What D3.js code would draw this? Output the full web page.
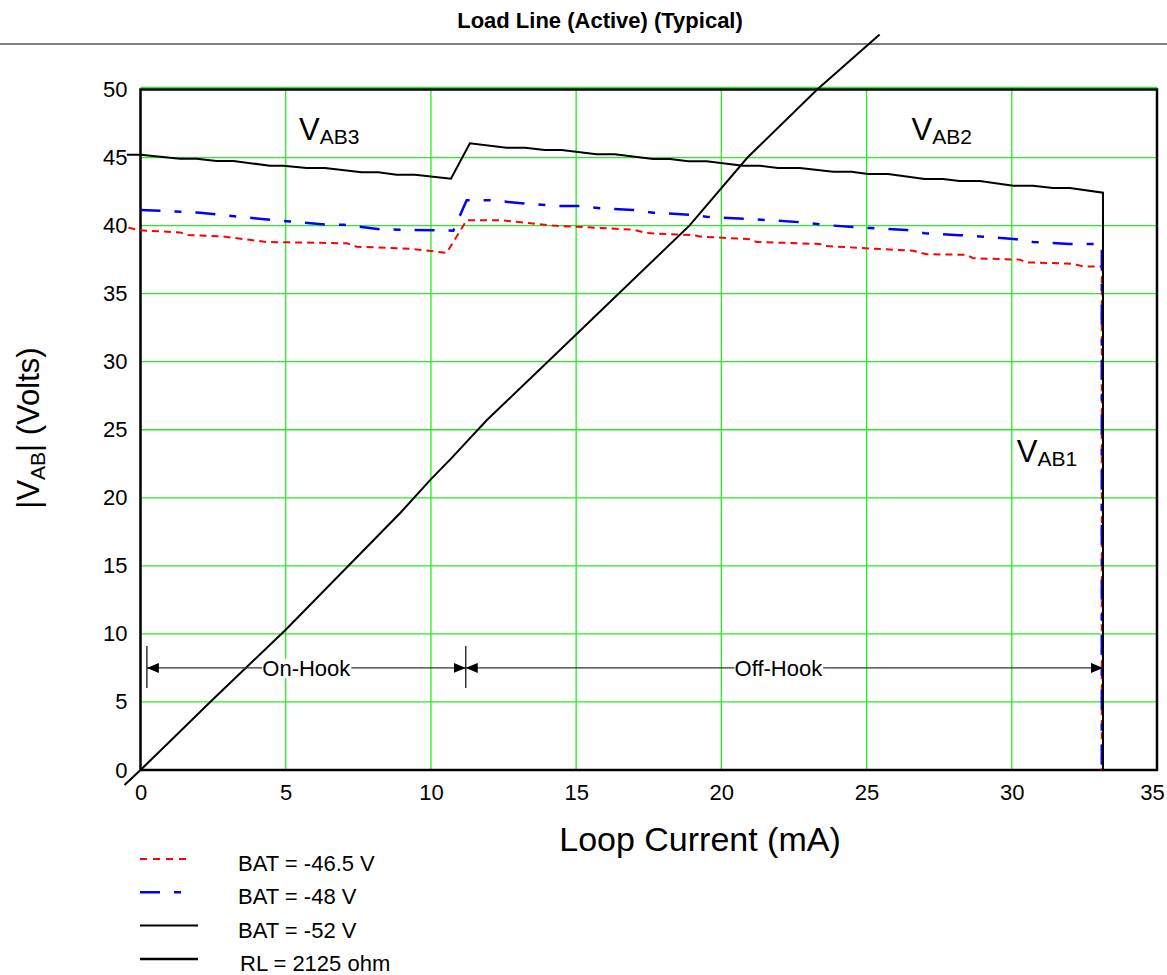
<!DOCTYPE html>
<html>
<head>
<meta charset="utf-8">
<script src="https://cdn.jsdelivr.net/npm/d3@7"></script>
<style>
  body{margin:0;background:#fff;}
  text{font-family:'Liberation Sans',Arial,sans-serif;fill:#000;}
</style>
</head>
<body>
<svg width="1167" height="975"></svg>
<script>
// values: [loop current mA, |VAB| volts]
const BAT_465=[[-0.42,39.85],[0,39.65],[1.36,39.5],[1.65,39.3],[2.85,39.2],[4.34,38.8],[7.1,38.7],[7.44,38.45],[9.28,38.3],[10.54,38.0],[11.23,40.4],[12.38,40.4],[14.2,40.0],[16.96,39.7],[17.42,39.45],[19.03,39.3],[19.26,39.2],[20.98,39.0],[21.21,38.8],[23.39,38.65],[23.56,38.5],[26.6,38.15],[27.06,37.9],[28.44,37.85],[28.67,37.6],[30.28,37.5],[30.5,37.3],[32.1,37.2],[32.45,37.0],[33.1,37.0],[33.1,0]];
const BAT_48=[[0,41.15],[2.05,40.95],[3.31,40.66],[5.15,40.3],[6.4,40.07],[7.0,40.07],[8.24,39.73],[10.77,39.63],[11.23,41.87],[12.03,41.87],[13.3,41.6],[14.44,41.44],[15.13,41.44],[15.82,41.27],[16.96,41.15],[17.65,40.95],[19.03,40.78],[19.49,40.65],[20.87,40.5],[22.7,40.25],[23.85,40.0],[25.1,39.82],[26.37,39.68],[27.0,39.44],[28.2,39.3],[28.9,39.2],[30.16,39.0],[30.73,38.8],[32.0,38.65],[33.1,38.65],[33.1,0]];
const BAT_52=[[-0.47,45.2],[0,45.2],[1.36,44.92],[1.93,44.92],[2.62,44.75],[3.2,44.75],[4.46,44.4],[4.92,44.4],[5.72,44.23],[6.35,44.23],[7.61,43.92],[8.19,43.92],[8.82,43.74],[9.45,43.74],[10.69,43.45],[11.34,46.05],[12.6,45.72],[13.24,45.72],[13.92,45.55],[14.5,45.55],[15.7,45.24],[16.33,45.24],[17.65,44.89],[18.23,44.89],[18.86,44.72],[19.49,44.72],[20.75,44.4],[21.33,44.4],[21.95,44.23],[22.7,44.23],[23.85,43.96],[24.48,43.96],[25.05,43.79],[25.74,43.79],[27.0,43.42],[27.63,43.42],[28.2,43.28],[28.9,43.28],[30.05,42.93],[30.73,42.93],[31.42,42.76],[32.0,42.76],[33.14,42.42],[33.14,0]];
const RL_LINE=[[-0.55,-1.1],[0,0],[1.3,2.7],[2.4,5],[5,10.3],[8.95,18.9],[9.97,21.3],[10.7,22.9],[11.92,25.7],[15,32],[18.9,40],[20.9,45],[23.3,50],[25.45,54.05]];

const X_TICKS=[0,5,10,15,20,25,30,35];
const Y_TICKS=[0,5,10,15,20,25,30,35,40,45,50];

// hook ranges (mA) and the height of the dimension arrows (V)
const HOOK_RANGES=[{label:'On-Hook',from:0.22,to:11.2},{label:'Off-Hook',from:11.2,to:33.14}];
const HOOK_Y=7.5;

const VAB_LABELS=[{sub:'AB3',x:5.46,y:46.3},{sub:'AB2',x:26.55,y:46.3},{sub:'AB1',x:30.17,y:22.6}];
const LEGEND=['BAT = -46.5 V','BAT = -48 V','BAT = -52 V','RL = 2125 ohm'];

const svg=d3.select('svg');

const xScale=d3.scaleLinear().domain([0,35]).range([140.5,1157]);
const yScale=d3.scaleLinear().domain([0,50]).range([770,89.5]);

// title + rule
svg.append('text')
  .attr('x',600).attr('y',28)
  .attr('text-anchor','middle')
  .style('font-size','22px').style('font-weight','bold')
  .text('Load Line (Active) (Typical)');
svg.append('line')
  .attr('x1',0).attr('x2',1167).attr('y1',44).attr('y2',44)
  .attr('stroke','#808080').attr('stroke-width',2);

// green grid
const grid=svg.append('g');
grid.selectAll('.vg')
  .data(X_TICKS.slice(1))
  .enter().append('line')
  .attr('x1',d=>xScale(d)).attr('x2',d=>xScale(d))
  .attr('y1',yScale(0)).attr('y2',yScale(50)-2)
  .attr('stroke','#22ee22').attr('stroke-width',1.3);
grid.selectAll('.hg')
  .data(Y_TICKS.slice(1))
  .enter().append('line')
  .attr('x1',xScale(0)).attr('x2',xScale(35))
  .attr('y1',d=>yScale(d)-(d===50?2:0)).attr('y2',d=>yScale(d)-(d===50?2:0))
  .attr('stroke','#22ee22').attr('stroke-width',1.3);

// frame
svg.append('rect')
  .attr('x',xScale(0)).attr('y',yScale(50))
  .attr('width',xScale(35)-xScale(0)).attr('height',yScale(0)-yScale(50))
  .attr('fill','none').attr('stroke','#000').attr('stroke-width',2.5);

// axes labels
const yAxis=svg.append('g')
  .attr('transform',`translate(${xScale(0)},0)`)
  .call(d3.axisLeft(yScale).tickValues(Y_TICKS).tickSize(0).tickPadding(13));
const xAxis=svg.append('g')
  .attr('transform',`translate(0,${yScale(0)})`)
  .call(d3.axisBottom(xScale).tickValues(X_TICKS).tickSize(0).tickPadding(14));
[yAxis,xAxis].forEach(a=>{
  a.select('.domain').remove();
  a.selectAll('text').style('font-size','22px').style('font-family',"'Liberation Sans',Arial,sans-serif").attr('fill','#000');
});
// last label sits against the page edge
xAxis.selectAll('text').filter(d=>d===35).attr('dx',-5);

svg.append('text')
  .attr('x',700).attr('y',851)
  .attr('text-anchor','middle')
  .style('font-size','34px')
  .text('Loop Current (mA)');

const yLab=svg.append('text')
  .attr('transform','translate(39,428) rotate(-90)')
  .attr('text-anchor','middle')
  .style('font-size','31px');
yLab.append('tspan').text('|V');
yLab.append('tspan').attr('dy',6).style('font-size','21px').text('AB');
yLab.append('tspan').attr('dy',-6).text('| (Volts)');

// curves
const line=d3.line().x(d=>xScale(d[0])).y(d=>yScale(d[1]));

svg.append('path').datum(RL_LINE)
  .attr('d',line).attr('fill','none').attr('stroke','#000').attr('stroke-width',2);
svg.append('path').datum(BAT_465)
  .attr('d',line).attr('fill','none').attr('stroke','#ff0000').attr('stroke-width',2)
  .attr('stroke-dasharray','7,5');
svg.append('path').datum(BAT_48)
  .attr('d',line).attr('fill','none').attr('stroke','#0000ff').attr('stroke-width',2.5)
  .attr('stroke-dasharray','20,14,7,14');
svg.append('path').datum(BAT_52)
  .attr('d',line).attr('fill','none').attr('stroke','#000').attr('stroke-width',2);

// V_AB labels
VAB_LABELS.forEach(l=>{
  const t=svg.append('text')
    .attr('x',xScale(l.x)).attr('y',yScale(l.y))
    .style('font-size','31px');
  t.append('tspan').text('V');
  t.append('tspan').attr('dy',4).style('font-size','21px').text(l.sub);
});

// on-hook / off-hook dimension arrows
const defs=svg.append('defs');
defs.append('marker')
  .attr('id','arr').attr('viewBox','0 0 12 10')
  .attr('refX',12).attr('refY',5)
  .attr('markerWidth',12).attr('markerHeight',10)
  .attr('markerUnits','userSpaceOnUse')
  .attr('orient','auto-start-reverse')
  .append('path').attr('d','M0,0L12,5L0,10Z').attr('fill','#000');

const hook=svg.append('g');
hook.selectAll('.hl')
  .data(HOOK_RANGES)
  .enter().append('line')
  .attr('x1',d=>xScale(d.from)).attr('x2',d=>xScale(d.to))
  .attr('y1',yScale(HOOK_Y)).attr('y2',yScale(HOOK_Y))
  .attr('stroke','#333').attr('stroke-width',1.2)
  .attr('marker-start','url(#arr)').attr('marker-end','url(#arr)');
hook.selectAll('.ht')
  .data([HOOK_RANGES[0].from,HOOK_RANGES[0].to])
  .enter().append('line')
  .attr('x1',d=>xScale(d)).attr('x2',d=>xScale(d))
  .attr('y1',yScale(HOOK_Y)-22).attr('y2',yScale(HOOK_Y)+20)
  .attr('stroke','#000').attr('stroke-width',1.2);
HOOK_RANGES.forEach(r=>{
  const cx=xScale((r.from+r.to)/2)-(r.label==='Off-Hook'?6:0);
  const t=hook.append('text')
    .attr('x',cx).attr('y',yScale(HOOK_Y)+8)
    .attr('text-anchor','middle')
    .style('font-size','22px')
    .text(r.label);
  const bb=t.node().getBBox();
  hook.insert('rect','text')
    .attr('x',bb.x).attr('y',bb.y+3).attr('width',bb.width).attr('height',bb.height-6)
    .attr('fill','#fff');
});

// legend
const legStyles=[
  {stroke:'#ff0000',dash:'7,6',len:48,w:2},
  {stroke:'#0000ff',dash:'20,14,7,14',len:41,w:2.5},
  {stroke:'#000',dash:null,len:58,w:2},
  {stroke:'#000',dash:null,len:58,w:2.5}
];
const leg=svg.append('g');
LEGEND.forEach((lab,i)=>{
  const y=859+i*33.3;
  leg.append('line')
    .attr('x1',140).attr('x2',140+legStyles[i].len)
    .attr('y1',y).attr('y2',y)
    .attr('stroke',legStyles[i].stroke).attr('stroke-width',legStyles[i].w)
    .attr('stroke-dasharray',legStyles[i].dash);
  leg.append('text')
    .attr('x',i===3?240:238).attr('y',y+12)
    .style('font-size','22px')
    .text(lab);
});
</script>
</body>
</html>
